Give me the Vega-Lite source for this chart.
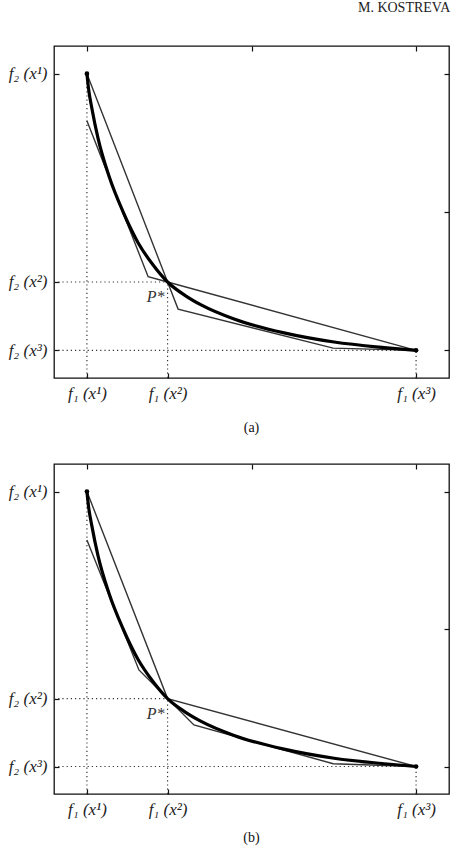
{
  "$schema": "https://vega.github.io/schema/vega-lite/v6.json",
  "padding": {"left": 7, "top": 0, "right": 0, "bottom": 0},
  "background": "white",
  "title": {"text": "M. KOSTREVA", "anchor": "end", "fontSize": 14, "font": "Liberation Serif", "fontWeight": "normal", "color": "#222", "offset": 30},
  "config": {
    "view": {"stroke": "#111", "strokeWidth": 1.3},
    "axis": {"labelFont": "Liberation Serif", "labelFontStyle": "italic", "labelFontSize": 17, "labelColor": "#222", "tickColor": "#111", "tickWidth": 1.2, "domain": false, "grid": false, "tickSize": 5, "offset": -5, "labelPadding": 7},
    "title": {"font": "Liberation Serif", "fontWeight": "normal", "fontSize": 14, "color": "#111"}
  },
  "datasets": {
    "curve": [
      {"o": 1, "x": 1, "y": 11}, {"o": 2, "x": 1.05, "y": 10.45}, {"o": 3, "x": 1.15, "y": 9.75}, {"o": 4, "x": 1.34, "y": 8.65},
      {"o": 5, "x": 1.67, "y": 7.3}, {"o": 6, "x": 2.1, "y": 6.0}, {"o": 7, "x": 2.55, "y": 4.9}, {"o": 8, "x": 3.0, "y": 4.1},
      {"o": 9, "x": 3.45, "y": 3.47}, {"o": 10, "x": 4.0, "y": 2.97}, {"o": 11, "x": 4.47, "y": 2.64}, {"o": 12, "x": 5.47, "y": 2.13},
      {"o": 13, "x": 6.99, "y": 1.63}, {"o": 14, "x": 8.51, "y": 1.3}, {"o": 15, "x": 10.03, "y": 1.1}, {"o": 16, "x": 11, "y": 1}
    ],
    "ends": [{"x": 1, "y": 11}, {"x": 11, "y": 1}],
    "polyA": [
      {"s": "u1", "o": 1, "x": 1, "y": 9.3}, {"s": "u1", "o": 2, "x": 2.86, "y": 3.66}, {"s": "u1", "o": 3, "x": 3.45, "y": 3.47}, {"s": "u1", "o": 4, "x": 11, "y": 1},
      {"s": "u2", "o": 1, "x": 1, "y": 11}, {"s": "u2", "o": 2, "x": 3.45, "y": 3.47}, {"s": "u2", "o": 3, "x": 3.77, "y": 2.49}, {"s": "u2", "o": 4, "x": 8.48, "y": 1.08}, {"s": "u2", "o": 5, "x": 11, "y": 1}
    ],
    "polyB": [
      {"s": "c", "o": 1, "x": 1, "y": 11}, {"s": "c", "o": 2, "x": 3.45, "y": 3.47}, {"s": "c", "o": 3, "x": 11, "y": 1},
      {"s": "l", "o": 1, "x": 1, "y": 9.24}, {"s": "l", "o": 2, "x": 2.58, "y": 4.51}, {"s": "l", "o": 3, "x": 3.45, "y": 3.47}, {"s": "l", "o": 4, "x": 4.25, "y": 2.51}, {"s": "l", "o": 5, "x": 8.48, "y": 1.1}, {"s": "l", "o": 6, "x": 11, "y": 1}
    ],
    "guides": [
      {"x": 1, "y": 0, "x2": 1, "y2": 11}, {"x": 3.45, "y": 0, "x2": 3.45, "y2": 3.47}, {"x": 11, "y": 0, "x2": 11, "y2": 1},
      {"x": 0, "y": 3.47, "x2": 3.45, "y2": 3.47}, {"x": 0, "y": 1, "x2": 11, "y2": 1}
    ],
    "pstar": [{"x": 3.45, "y": 3.47, "t": "P*"}]
  },
  "spacing": 26,
  "vconcat": [
    {
      "width": 395, "height": 332,
      "title": {"text": "(a)", "orient": "bottom", "offset": 20},
      "layer": [
        {"data": {"name": "guides"}, "mark": {"type": "rule", "strokeDash": [1.2, 3], "color": "#333", "strokeWidth": 1.2},
         "encoding": {
           "x": {"field": "x", "type": "quantitative", "scale": {"domain": [0, 12], "nice": false, "zero": false}, "axis": {"orient": "bottom", "title": null, "values": [1, 3.45, 11], "labelExpr": "datum.value == 1 ? 'f₁ (x¹)' : datum.value == 11 ? 'f₁ (x³)' : 'f₁ (x²)'"}},
           "y": {"field": "y", "type": "quantitative", "scale": {"domain": [0, 12], "nice": false, "zero": false}, "axis": {"orient": "left", "title": null, "values": [1, 3.47, 11], "labelExpr": "datum.value == 1 ? 'f₂ (x³)' : datum.value == 11 ? 'f₂ (x¹)' : 'f₂ (x²)'"}},
           "x2": {"field": "x2"}, "y2": {"field": "y2"}}},
        {"data": {"name": "polyA"}, "mark": {"type": "line", "color": "#333", "strokeWidth": 1.4},
         "encoding": {
           "x": {"field": "x", "type": "quantitative", "axis": {"orient": "top", "title": null, "values": [1, 6, 11], "labels": false}},
           "y": {"field": "y", "type": "quantitative", "axis": {"orient": "right", "title": null, "values": [1, 6, 11], "labels": false}},
           "detail": {"field": "s"}, "order": {"field": "o"}}},
        {"data": {"name": "curve"}, "mark": {"type": "line", "color": "#000", "strokeWidth": 3.2, "interpolate": "monotone", "strokeCap": "round"},
         "encoding": {
           "x": {"field": "x", "type": "quantitative", "axis": null},
           "y": {"field": "y", "type": "quantitative", "axis": null},
           "order": {"field": "o"}}},
        {"data": {"name": "ends"}, "mark": {"type": "point", "filled": true, "color": "#000", "size": 22, "opacity": 1},
         "encoding": {
           "x": {"field": "x", "type": "quantitative", "axis": null},
           "y": {"field": "y", "type": "quantitative", "axis": null}}},
        {"data": {"name": "pstar"}, "mark": {"type": "text", "dx": -12, "dy": 15, "font": "Liberation Serif", "fontStyle": "italic", "fontSize": 16, "color": "#333"},
         "encoding": {
           "x": {"field": "x", "type": "quantitative", "axis": null},
           "y": {"field": "y", "type": "quantitative", "axis": null},
           "text": {"field": "t"}}}
      ],
      "resolve": {"axis": {"x": "independent", "y": "independent"}}
    },
    {
      "width": 395, "height": 330,
      "title": {"text": "(b)", "orient": "bottom", "offset": 14},
      "layer": [
        {"data": {"name": "guides"}, "mark": {"type": "rule", "strokeDash": [1.2, 3], "color": "#333", "strokeWidth": 1.2},
         "encoding": {
           "x": {"field": "x", "type": "quantitative", "scale": {"domain": [0, 12], "nice": false, "zero": false}, "axis": {"orient": "bottom", "title": null, "values": [1, 3.45, 11], "labelExpr": "datum.value == 1 ? 'f₁ (x¹)' : datum.value == 11 ? 'f₁ (x³)' : 'f₁ (x²)'"}},
           "y": {"field": "y", "type": "quantitative", "scale": {"domain": [0, 12], "nice": false, "zero": false}, "axis": {"orient": "left", "title": null, "values": [1, 3.47, 11], "labelExpr": "datum.value == 1 ? 'f₂ (x³)' : datum.value == 11 ? 'f₂ (x¹)' : 'f₂ (x²)'"}},
           "x2": {"field": "x2"}, "y2": {"field": "y2"}}},
        {"data": {"name": "polyB"}, "mark": {"type": "line", "color": "#333", "strokeWidth": 1.4},
         "encoding": {
           "x": {"field": "x", "type": "quantitative", "axis": {"orient": "top", "title": null, "values": [1, 6, 11], "labels": false}},
           "y": {"field": "y", "type": "quantitative", "axis": {"orient": "right", "title": null, "values": [1, 6, 11], "labels": false}},
           "detail": {"field": "s"}, "order": {"field": "o"}}},
        {"data": {"name": "curve"}, "mark": {"type": "line", "color": "#000", "strokeWidth": 3.2, "interpolate": "monotone", "strokeCap": "round"},
         "encoding": {
           "x": {"field": "x", "type": "quantitative", "axis": null},
           "y": {"field": "y", "type": "quantitative", "axis": null},
           "order": {"field": "o"}}},
        {"data": {"name": "ends"}, "mark": {"type": "point", "filled": true, "color": "#000", "size": 22, "opacity": 1},
         "encoding": {
           "x": {"field": "x", "type": "quantitative", "axis": null},
           "y": {"field": "y", "type": "quantitative", "axis": null}}},
        {"data": {"name": "pstar"}, "mark": {"type": "text", "dx": -12, "dy": 15, "font": "Liberation Serif", "fontStyle": "italic", "fontSize": 16, "color": "#333"},
         "encoding": {
           "x": {"field": "x", "type": "quantitative", "axis": null},
           "y": {"field": "y", "type": "quantitative", "axis": null},
           "text": {"field": "t"}}}
      ],
      "resolve": {"axis": {"x": "independent", "y": "independent"}}
    }
  ]
}
